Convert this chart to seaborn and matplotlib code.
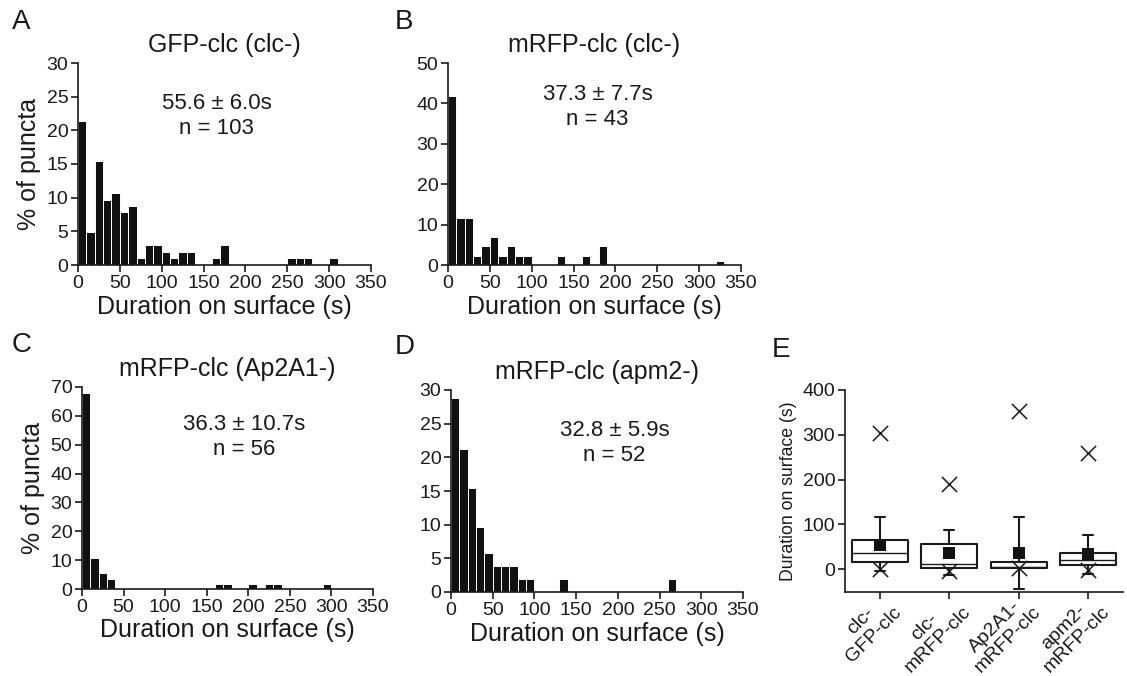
import numpy as np
import pandas as pd
import seaborn as sns
import matplotlib.pyplot as plt

# histogram data: bin centre (s) and % of puncta, 10 s bins
a_centers = [5, 15, 25, 35, 45, 55, 65, 75, 85, 95, 105, 115, 125, 135, 165, 175, 255, 265, 275, 305]
a_pct = [21.4, 4.9, 15.5, 9.7, 10.7, 7.8, 8.7, 1.0, 2.9, 2.9, 1.9, 1.0, 1.9, 1.9, 1.0, 2.9, 1.0, 1.0, 1.0, 1.0]

b_centers = [5, 15, 25, 35, 45, 55, 65, 75, 85, 95, 135, 165, 185, 325]
b_pct = [41.9, 11.6, 11.6, 2.3, 4.7, 7.0, 2.3, 4.7, 2.3, 2.3, 2.3, 2.3, 4.7, 1.0]

c_centers = [5, 15, 25, 35, 165, 175, 205, 225, 235, 295]
c_pct = [67.9, 10.7, 5.4, 3.6, 1.8, 1.8, 1.8, 1.8, 1.8, 1.8]

d_centers = [5, 15, 25, 35, 45, 55, 65, 75, 85, 95, 135, 265]
d_pct = [28.8, 21.2, 15.4, 9.6, 5.8, 3.8, 3.8, 3.8, 1.9, 1.9, 1.9, 1.9]

titles = ["GFP-clc (clc-)", "mRFP-clc (clc-)", "mRFP-clc (Ap2A1-)", "mRFP-clc (apm2-)"]
stats_text = ["55.6 ± 6.0s\nn = 103", "37.3 ± 7.7s\nn = 43", "36.3 ± 10.7s\nn = 56", "32.8 ± 5.9s\nn = 52"]
y_max = [30, 50, 70, 30]
y_step = [5, 10, 10, 5]

# box plot summary (panel E)
groups = ["clc-\nGFP-clc", "clc-\nmRFP-clc", "Ap2A1-\nmRFP-clc", "apm2-\nmRFP-clc"]
q1 = [16, 1.5, 1.5, 10]
median = [37, 12, 4.5, 20]
q3 = [64, 57, 16, 37]
whisker_lo = [-5, -12, -45, -10]
whisker_hi = [117, 87, 117, 76]
means = [55, 37, 36, 33]
max_x = [303, 190, 353, 260]
min_x = [1, -3, 2, -1]

sns.set_style("ticks")
plt.rcParams['font.family'] = ['Liberation Sans', 'DejaVu Sans']
plt.rcParams['text.color'] = '#1a1a1a'
plt.rcParams['axes.labelcolor'] = '#1a1a1a'
plt.rcParams['xtick.color'] = '#1a1a1a'
plt.rcParams['ytick.color'] = '#1a1a1a'

W, H = 1127, 676
fig = plt.figure(figsize=(W / 100, H / 100), dpi=100)


def px_axes(left, top, right, bottom):
    return fig.add_axes([left / W, 1 - bottom / H, (right - left) / W, (bottom - top) / H])


boxes = [(78, 63, 371, 265), (448, 63, 741, 265), (82, 387, 373, 589), (451, 390, 743, 592)]
centers = [a_centers, b_centers, c_centers, d_centers]
pcts = [a_pct, b_pct, c_pct, d_pct]
text_pos = [(0.474, 0.74), (0.51, 0.78), (0.557, 0.75), (0.56, 0.74)]
letters = ["A", "B", "C", "D"]
letter_pos = [(12, 22), (395, 22), (12, 345), (395, 347)]

for i in range(4):
    ax = px_axes(*boxes[i])
    df = pd.DataFrame({'duration': centers[i], 'pct': pcts[i]})
    sns.histplot(data=df, x='duration', weights='pct', binwidth=10, binrange=(0, 350), ax=ax,
                 color='#111111', edgecolor='white', linewidth=0.7, alpha=1)
    ax.set_xlim(0, 350)
    ax.set_ylim(0, y_max[i])
    ax.set_xticks(range(0, 351, 50))
    ax.set_yticks(range(0, y_max[i] + 1, y_step[i]))
    ax.tick_params(direction='out', length=5, width=1.2, labelsize=14, pad=2)
    for s in ['left', 'bottom']:
        ax.spines[s].set_linewidth(1.2)
        ax.spines[s].set_color('#1a1a1a')
    sns.despine(ax=ax)
    ax.set_xlabel("Duration on surface (s)", fontsize=18, labelpad=2)
    ax.set_ylabel("% of puncta" if i in (0, 2) else "", fontsize=18, labelpad=4)
    ax.set_title(titles[i], fontsize=18, pad=8)
    ax.text(text_pos[i][0], text_pos[i][1], stats_text[i], transform=ax.transAxes,
            ha='center', va='center', fontsize=16, linespacing=1.25)
    fig.text(letter_pos[i][0] / W, 1 - letter_pos[i][1] / H, letters[i], fontsize=20,
             ha='left', va='center')

# panel E
ax = px_axes(845, 390, 1123, 592)
pos = list(range(len(groups)))
stats = []
for k in pos:
    stats.append(dict(med=median[k], q1=q1[k], q3=q3[k], whislo=whisker_lo[k], whishi=whisker_hi[k]))
ax.bxp(stats, positions=pos, widths=0.8, showfliers=False, showcaps=True,
       boxprops=dict(color='#1a1a1a', linewidth=1.5),
       medianprops=dict(color='#1a1a1a', linewidth=1.0),
       whiskerprops=dict(color='#1a1a1a', linewidth=1.5),
       capprops=dict(color='#1a1a1a', linewidth=1.5), capwidths=0.15)
sns.scatterplot(x=pos, y=means, marker='s', color='#111111', s=75, linewidth=0, ax=ax, zorder=5)
sns.scatterplot(x=pos + pos, y=max_x + min_x, marker='x', color='#1a1a1a', s=120,
                linewidth=1.1, ax=ax, zorder=5)
ax.set_xlim(-0.5, 3.5)
ax.set_ylim(-51, 400)
ax.set_yticks([0, 100, 200, 300, 400])
ax.set_xticks(pos)
ax.set_xticklabels(groups, rotation=45, ha='right', va='top', rotation_mode='anchor',
                   multialignment='center', linespacing=1.1)
ax.tick_params(direction='out', length=5, width=1.2, labelsize=14, pad=2)
ax.tick_params(axis='x', labelsize=14, pad=-6)
for s in ['left', 'bottom']:
    ax.spines[s].set_linewidth(1.2)
    ax.spines[s].set_color('#1a1a1a')
sns.despine(ax=ax)
ax.set_ylabel("Duration on surface (s)", fontsize=12.7, labelpad=4)
fig.text(772 / W, 1 - 350 / H, "E", fontsize=20, ha='left', va='center')

fig.savefig("out.png", dpi=100)
